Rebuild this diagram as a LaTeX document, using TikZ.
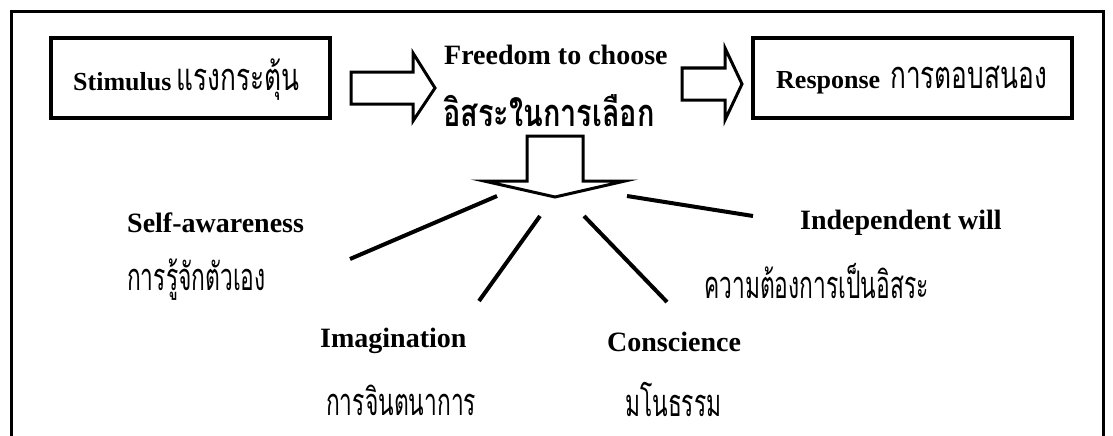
\documentclass[tikz,border=0pt]{standalone}
\usepackage{fontspec}
\setmainfont{Liberation Serif}
\newfontfamily\thaifont[Script=Thai,FakeStretch=0.6]{Loma}
\newfontfamily\thaiwide[Script=Thai,FakeStretch=0.69]{Loma}
\newfontfamily\thaibold[Script=Thai,FakeStretch=0.76]{Loma}
\begin{document}
\begin{tikzpicture}[x=1pt,y=-1pt,
  lat/.style={font=\fontsize{28}{30}\selectfont\bfseries, inner sep=0pt, anchor=west},
  th/.style={font=\fontsize{38}{40}\selectfont\thaifont, inner sep=0pt, anchor=west},
  box/.style={draw, line width=3.5pt, inner sep=0pt},
  blockarrow/.style={draw, line width=3pt, line join=miter, miter limit=10},
  spoke/.style={line width=4pt}]
\useasboundingbox (0,0) rectangle (1113,436);
\clip (0,0) rectangle (1113,436);
% outer frame (open at the bottom)
\draw[line width=3pt] (11,450) -- (11,12) -- (1103,12) -- (1103,450);
% top boxes
\node[box, minimum width=279pt, minimum height=80pt] (stim) at (190.5,78) {};
\node[anchor=west, inner sep=0pt] (stimtxt) at (73,80)
  {{\bfseries\fontsize{26}{30}\selectfont Stimulus}\hspace{5pt}{\fontsize{38}{40}\selectfont\thaiwide แรงกระตุ้น}};
\node[box, minimum width=319pt, minimum height=80pt] (resp) at (912.5,78) {};
\node[anchor=west, inner sep=0pt] (resptxt) at (776,80)
  {{\bfseries\fontsize{26}{30}\selectfont Response}\hspace{10pt}{\fontsize{38}{40}\selectfont\thaiwide การตอบสนอง}};
% freedom to choose
\node[lat] (free) at (444,55) {Freedom to choose};
\node[th, font=\fontsize{38}{40}\selectfont\thaibold\bfseries] (freeth) at (443,111) {อิสระในการเลือก};
% block arrows
\draw[blockarrow] (351,72) -- (413,72) -- (413,53) -- (435,88) -- (413,121) -- (413,104) -- (351,104) -- cycle;
\draw[blockarrow] (682,68) -- (725,68) -- (725,48) -- (742,84) -- (725,120) -- (725,100) -- (682,100) -- cycle;
\draw[blockarrow] (527,136) -- (583,136) -- (583,181) -- (625,181) -- (555,197) -- (484,181) -- (527,181) -- cycle;
% spokes
\coordinate (s1a) at (497,196); \coordinate (s1b) at (350,259);
\coordinate (s2a) at (540,216); \coordinate (s2b) at (479,301);
\coordinate (s3a) at (584,216); \coordinate (s3b) at (667,302);
\coordinate (s4a) at (627,196); \coordinate (s4b) at (753,216);
\draw[spoke] (s1a) -- (s1b);
\draw[spoke] (s2a) -- (s2b);
\draw[spoke] (s3a) -- (s3b);
\draw[spoke] (s4a) -- (s4b);
% labels
\node[lat] (self) at (127,223) {Self-awareness};
\node[th] (selfth) at (127,280) {การรู้จักตัวเอง};
\node[lat] (imag) at (320,341) {Imagination};
\node[th] (imagth) at (326,400) {การจินตนาการ};
\node[lat] (indep) at (800,223) {Independent will};
\node[th] (indepth) at (704,281) {ความต้องการเป็นอิสระ};
\node[lat] (consc) at (607,342) {Conscience};
\node[th] (conscth) at (625,399) {มโนธรรม};
\end{tikzpicture}
\end{document}
